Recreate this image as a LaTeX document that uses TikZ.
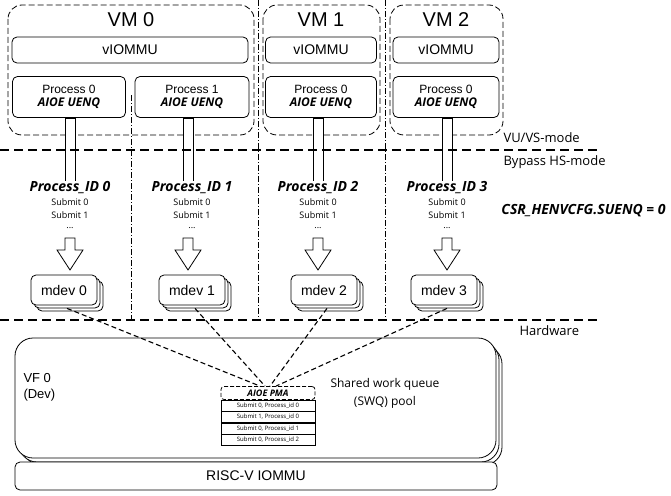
\documentclass[tikz,border=0pt]{standalone}
\usepackage{fontspec}
\setmainfont{Liberation Sans}
\newfontfamily\osans{Open Sans}
\usetikzlibrary{positioning}
\tikzset{
  vmbox/.style={draw, thick, dash pattern=on 6pt off 3pt, rounded corners=14pt},
  rbox/.style={draw, rounded corners=5pt, thick, fill=white, align=center, inner sep=0pt},
  divider/.style={draw, thick, dash pattern=on 6pt off 2pt on 1pt off 2pt},
  levelline/.style={draw, line width=1.2pt, dash pattern=on 9pt off 5pt},
  pidlabel/.style={font=\osans\bfseries\itshape\fontsize{14}{16}\selectfont},
  sublabel/.style={font=\osans\fontsize{9}{13}\selectfont, align=center},
  modelabel/.style={font=\osans\fontsize{13}{15}\selectfont, anchor=west},
  mdevbox/.style={rbox, minimum width=66pt, minimum height=30pt, font=\fontsize{14}{16}\selectfont},
  link/.style={draw, line width=1.1pt, dash pattern=on 5pt off 3pt},
  rowbox/.style={draw, thin, fill=white, minimum width=94pt, minimum height=11pt, inner sep=0pt, font=\osans\fontsize{6}{7}\selectfont}
}
\newcommand{\blockarrow}[1]{%
  \draw[thick, fill=white] (#1-5,118) rectangle (#1+5,182);
  \draw[thick, fill=white] (#1-5,238) -- (#1-5,250) -- (#1-13,250) -- (#1,270) -- (#1+13,250) -- (#1+5,250) -- (#1+5,238) -- cycle;}
\begin{document}
\begin{tikzpicture}[x=1pt,y=-1pt]
  \useasboundingbox (0,0) rectangle (671,495);
  % VM frames
  \draw[vmbox] (8,5) rectangle (254,135);
  \draw[vmbox] (263,5) rectangle (380,135);
  \draw[vmbox] (390,5) rectangle (503,135);
  \node[font=\fontsize{20}{22}\selectfont] (vm0) at (131,20) {VM 0};
  \node[font=\fontsize{20}{22}\selectfont] (vm1) at (321,20) {VM 1};
  \node[font=\fontsize{20}{22}\selectfont] (vm2) at (446,20) {VM 2};
  % dividers
  \draw[divider] (131,95) -- (131,320);
  \draw[divider] (258,0) -- (258,320);
  \draw[divider] (385,0) -- (385,320);
  % vIOMMU
  \node[rbox, minimum width=236pt, minimum height=26pt, font=\fontsize{14}{16}\selectfont] (viommu0) at (130,50) {vIOMMU};
  \node[rbox, minimum width=111pt, minimum height=26pt, font=\fontsize{14}{16}\selectfont] (viommu1) at (321,50) {vIOMMU};
  \node[rbox, minimum width=106pt, minimum height=26pt, font=\fontsize{14}{16}\selectfont] (viommu2) at (446,50) {vIOMMU};
  % stems and block arrows
  \blockarrow{70}
  \blockarrow{188}
  \blockarrow{318}
  \blockarrow{447}
  % processes
  \foreach \nm/\cx/\w/\p in {p0/69/113/0, p1/192/114/1, p2/321/111/0, p3/446/106/0}
    \node[rbox, minimum width=\w pt, minimum height=41pt] (\nm) at (\cx,97)
      {\fontsize{12}{14}\selectfont Process \p\\[1pt]\osans\bfseries\itshape\fontsize{12}{14}\selectfont AIOE UENQ};
  % mode lines
  \draw[levelline] (0,150) -- (600,150);
  \node[modelabel] (vumode) at (500,138) {VU/VS-mode};
  \node[modelabel] (hsmode) at (500,162) {Bypass HS-mode};
  % process ids
  \foreach \nm/\cx/\i in {pid0/70/0, pid1/192/1, pid2/318/2, pid3/447/3}{
    \node[pidlabel, fill=white, inner sep=1pt] (\nm) at (\cx,188) {Process\_ID \i};
    \node[sublabel, below=0pt of \nm] (\nm sub) {Submit 0\\Submit 1\\[-3pt]...};
  }
  \node[font=\osans\bfseries\itshape\fontsize{14}{16}\selectfont, anchor=east] (csr) at (669,211) {CSR\_HENVCFG.SUENQ = 0};
  % mdevs
  \foreach \nm/\cx/\i in {m0/64/0, m1/192/1, m2/324/2, m3/444/3}{
    \node[mdevbox] (\nm c) at (\cx+6,296) {};
    \node[mdevbox] (\nm b) at (\cx+3,293) {};
    \node[mdevbox] (\nm) at (\cx,290) {mdev \i};
  }
  \draw[levelline] (0,320) -- (600,320);
  \node[modelabel] (hw) at (516,331) {Hardware};
  % VF device
  \draw[rbox, rounded corners=18pt] (23,346) rectangle (502,465);
  \draw[rbox, rounded corners=18pt] (19,342) rectangle (499,462);
  \draw[rbox, rounded corners=18pt] (15,338) rectangle (496,458);
  \node[anchor=north west, align=left, font=\fontsize{13}{16}\selectfont] (vf) at (20,370) {VF 0\\(Dev)};
  \node[align=center, font=\osans\fontsize{12}{18}\selectfont] (swq) at (385,393) {Shared work queue\\(SWQ) pool};
  \node[draw, thick, dash pattern=on 4pt off 2pt, rounded corners=3pt, minimum width=94pt, minimum height=13pt, inner sep=0pt,
        font=\osans\bfseries\itshape\fontsize{9}{10}\selectfont] (pma) at (268,393) {AIOE PMA};
  \node[rowbox, below=0pt of pma] (r0) {Submit 0, Process\_id 0};
  \node[rowbox, below=0pt of r0] (r1) {Submit 1, Process\_id 0};
  \node[rowbox, below=0pt of r1] (r2) {Submit 0, Process\_id 1};
  \node[rowbox, below=0pt of r2] (r3) {Submit 0, Process\_id 2};
  % links
  \draw[link] (m0b.south) -- ([xshift=-8pt]pma.north);
  \draw[link] (m1b.south) -- ([xshift=-3pt]pma.north);
  \draw[link] (m2b.south) -- ([xshift=2pt]pma.north);
  \draw[link] (m3b.south) -- ([xshift=8pt]pma.north);
  % IOMMU
  \node[rbox, minimum width=482pt, minimum height=28pt, font=\fontsize{14}{16}\selectfont] (iommu) at (256,476) {RISC-V IOMMU};
\end{tikzpicture}
\end{document}
